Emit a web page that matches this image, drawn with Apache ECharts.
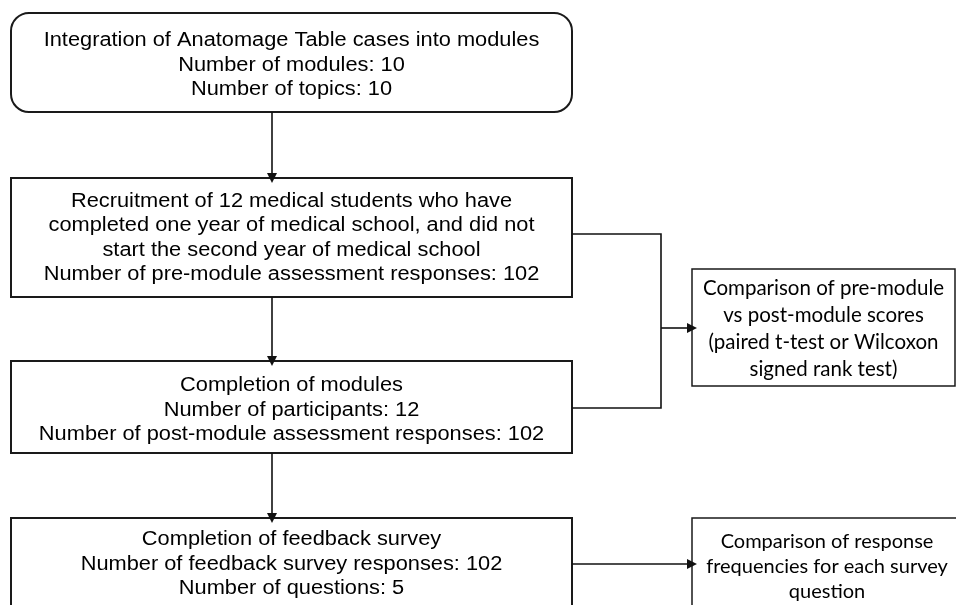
<!DOCTYPE html>
<html>
<head>
<meta charset="utf-8">
<script src="https://cdn.jsdelivr.net/npm/echarts@6/dist/echarts.min.js"></script>
<style>
  html, body { margin: 0; padding: 0; background: #fff; }
  #chart { width: 956px; height: 605px; }
</style>
</head>
<body>
<div id="chart"></div>
<script>
// flowchart boxes, in page-like data units (x: 0..956, y: 0..605 downwards)
const boxLabels = [
  'Integration of Anatomage Table cases into modules\nNumber of modules: 10\nNumber of topics: 10',
  'Recruitment of 12 medical students who have\ncompleted one year of medical school, and did not\nstart the second year of medical school\nNumber of pre-module assessment responses: 102',
  'Completion of modules\nNumber of participants: 12\nNumber of post-module assessment responses: 102',
  'Completion of feedback survey\nNumber of feedback survey responses: 102\nNumber of questions: 5',
  'Comparison of pre-module\nvs post-module scores\n(paired t-test or Wilcoxon\nsigned rank test)',
  'Comparison of response\nfrequencies for each survey\nquestion',
];
const boxLeft = [11, 11, 11, 11, 692, 692];
const boxRight = [572, 572, 572, 572, 955, 960];
const boxTop = [13, 178, 361, 518, 269, 518];
const boxBottom = [112, 297, 453, 630, 386, 630];
const boxTextY = [65, 238, 410, 564, 329, 567];

// connectors
const arrows = [
  [[272, 112], [272, 178]],
  [[272, 297], [272, 361]],
  [[272, 453], [272, 518]],
  [[661, 328], [692, 328]],
  [[572, 564], [692, 564]],
];
const bracket = [[572, 234], [661, 234], [661, 408], [572, 408]];

const boxData = boxLabels.map((t, i) => [boxLeft[i], boxTop[i], boxRight[i], boxBottom[i], boxTextY[i], i]);

const chart = echarts.init(document.getElementById('chart'));

const option = {
  animation: false,
  backgroundColor: '#fff',
  grid: { left: 0, right: 0, top: 0, bottom: 0 },
  xAxis: { type: 'value', min: 0, max: 956, show: false },
  yAxis: { type: 'value', min: 0, max: 605, inverse: true, show: false },
  series: [
    {
      type: 'custom',
      coordinateSystem: 'cartesian2d',
      data: boxData,
      encode: { x: [0, 2], y: [1, 3] },
      clip: false,
      renderItem: (params, api) => {
        const i = api.value(5);
        const p0 = api.coord([api.value(0), api.value(1)]);
        const p1 = api.coord([api.value(2), api.value(3)]);
        const cy = api.coord([0, api.value(4)])[1];
        const isSide = i >= 4;
        return {
          type: 'group',
          children: [
            {
              type: 'rect',
              shape: { x: p0[0], y: p0[1], width: p1[0] - p0[0], height: p1[1] - p0[1], r: i === 0 ? 18 : 0 },
              style: { fill: '#fff', stroke: '#1a1a1a', lineWidth: isSide ? 1.5 : 2 },
            },
            {
              type: 'text',
              x: i === 5 ? 827 : (p0[0] + p1[0]) / 2,
              y: cy,
              scaleX: isSide ? 1 : 1.09,
              style: {
                text: boxLabels[i],
                align: 'center',
                verticalAlign: 'middle',
                fontFamily: isSide ? 'Lato' : 'Liberation Sans',
                fontSize: isSide ? (i === 4 ? 20.5 : 20) : 20,
                lineHeight: isSide ? (i === 4 ? 27 : 25) : 24.5,
                fill: '#000',
              },
            },
          ],
        };
      },
    },
    {
      type: 'lines',
      coordinateSystem: 'cartesian2d',
      polyline: true,
      data: [{ coords: bracket }],
      lineStyle: { color: '#111', width: 1.6, opacity: 1 },
      symbol: 'none',
    },
    {
      type: 'lines',
      coordinateSystem: 'cartesian2d',
      data: arrows.map(c => ({ coords: c })),
      lineStyle: { color: '#111', width: 1.6, opacity: 1 },
      symbol: ['none', 'triangle'],
      symbolSize: [8, 10],
    },
  ],
};

chart.setOption(option);
</script>
</body>
</html>
